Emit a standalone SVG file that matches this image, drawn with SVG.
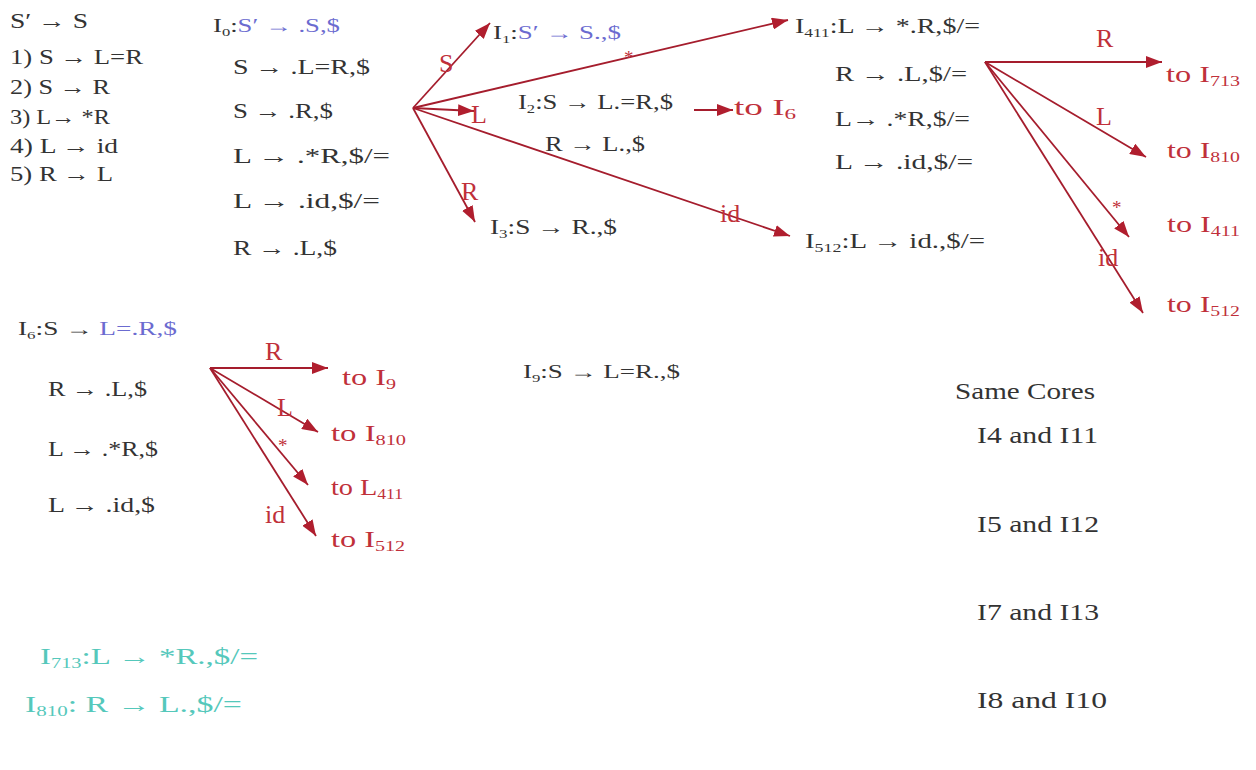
<svg xmlns="http://www.w3.org/2000/svg" width="1256" height="770" viewBox="0 0 1256 770">
<style>
text{font-family:"Liberation Serif","DejaVu Serif",serif;fill:#333;font-size:22px}
.sm{font-size:18px}
.md{font-size:20px}
.lg{font-size:23px}
.b{fill:#6b6bd0}
.r{fill:#c0303a}
.to{font-size:24px}
.lb{font-size:26px}
.st{font-size:19px}
.g{fill:#55c8bb;font-size:23px}
.s{font-size:0.62em}
#connectors line{stroke:#a51d2d;stroke-width:1.8;marker-end:url(#ah)}
</style>
<defs>
<marker id="ah" markerWidth="16" markerHeight="12" refX="16" refY="6" orient="auto" markerUnits="userSpaceOnUse"><path d="M0,0 L16,6 L0,12 z" fill="#b01e2e"/></marker>
</defs>
<rect width="1256" height="770" fill="#fff"/>

<g id="grammar">
<text x="10" y="28" textLength="78" lengthAdjust="spacingAndGlyphs">S′ → S</text>
<text x="10" y="64" textLength="133" lengthAdjust="spacingAndGlyphs">1) S → L=R</text>
<text x="10" y="94" textLength="100" lengthAdjust="spacingAndGlyphs">2) S → R</text>
<text x="10" y="124" textLength="100" lengthAdjust="spacingAndGlyphs">3) L→ *R</text>
<text x="10" y="153" textLength="108" lengthAdjust="spacingAndGlyphs">4) L → id</text>
<text x="10" y="181" textLength="103" lengthAdjust="spacingAndGlyphs">5) R → L</text>
</g>

<g id="I0">
<text class="sm" x="213" y="32" textLength="127" lengthAdjust="spacingAndGlyphs">I<tspan class="s" dy="4">0</tspan><tspan dy="-4">:</tspan><tspan class="b">S′ → .S,$</tspan></text>
<text x="233" y="74" textLength="137" lengthAdjust="spacingAndGlyphs">S → .L=R,$</text>
<text x="233" y="118" textLength="100" lengthAdjust="spacingAndGlyphs">S → .R,$</text>
<text x="233" y="163" textLength="157" lengthAdjust="spacingAndGlyphs">L → .*R,$/=</text>
<text x="233" y="208" textLength="147" lengthAdjust="spacingAndGlyphs">L → .id,$/=</text>
<text x="233" y="255" textLength="104" lengthAdjust="spacingAndGlyphs">R → .L,$</text>
</g>

<g id="I1">
<text class="sm" x="493" y="39" textLength="128" lengthAdjust="spacingAndGlyphs">I<tspan class="s" dy="4">1</tspan><tspan dy="-4">:</tspan><tspan class="b">S′ → S.,$</tspan></text>
</g>

<g id="I2">
<text class="md" x="518" y="109" textLength="155" lengthAdjust="spacingAndGlyphs">I<tspan class="s" dy="4">2</tspan><tspan dy="-4">:S → L.=R,$</tspan></text>
<text class="md" x="545" y="151" textLength="100" lengthAdjust="spacingAndGlyphs">R → L.,$</text>
<text class="r to" x="734" y="115" textLength="62" lengthAdjust="spacingAndGlyphs">to I<tspan class="s" dy="4">6</tspan></text>
</g>

<g id="I3">
<text class="md" x="490" y="234" textLength="127" lengthAdjust="spacingAndGlyphs">I<tspan class="s" dy="4">3</tspan><tspan dy="-4">:S → R.,$</tspan></text>
</g>

<g id="I411">
<text class="md" x="795" y="33" textLength="185" lengthAdjust="spacingAndGlyphs">I<tspan class="s" dy="4">411</tspan><tspan dy="-4">:L → *.R,$/=</tspan></text>
<text x="835" y="81" textLength="132" lengthAdjust="spacingAndGlyphs">R → .L,$/=</text>
<text x="835" y="126" textLength="135" lengthAdjust="spacingAndGlyphs">L→ .*R,$/=</text>
<text x="835" y="169" textLength="138" lengthAdjust="spacingAndGlyphs">L → .id,$/=</text>
</g>

<g id="I512">
<text class="md" x="805" y="248" textLength="180" lengthAdjust="spacingAndGlyphs">I<tspan class="s" dy="4">512</tspan><tspan dy="-4">:L → id.,$/=</tspan></text>
</g>

<g id="I411-targets">
<text class="r to" x="1166" y="82" textLength="74" lengthAdjust="spacingAndGlyphs">to I<tspan class="s" dy="4">713</tspan></text>
<text class="r to" x="1167" y="158" textLength="73" lengthAdjust="spacingAndGlyphs">to I<tspan class="s" dy="4">810</tspan></text>
<text class="r to" x="1167" y="232" textLength="73" lengthAdjust="spacingAndGlyphs">to I<tspan class="s" dy="4">411</tspan></text>
<text class="r to" x="1167" y="312" textLength="73" lengthAdjust="spacingAndGlyphs">to I<tspan class="s" dy="4">512</tspan></text>
</g>

<g id="I6">
<text class="sm" x="18" y="335" textLength="159" lengthAdjust="spacingAndGlyphs">I<tspan class="s" dy="4">6</tspan><tspan dy="-4">:S → </tspan><tspan class="b">L=.R,$</tspan></text>
<text x="48" y="396" textLength="99" lengthAdjust="spacingAndGlyphs">R → .L,$</text>
<text x="48" y="456" textLength="110" lengthAdjust="spacingAndGlyphs">L → .*R,$</text>
<text x="48" y="512" textLength="107" lengthAdjust="spacingAndGlyphs">L → .id,$</text>
</g>

<g id="I6-targets">
<text class="r to" x="342" y="385" textLength="54" lengthAdjust="spacingAndGlyphs">to I<tspan class="s" dy="4">9</tspan></text>
<text class="r to" x="331" y="441" textLength="75" lengthAdjust="spacingAndGlyphs">to I<tspan class="s" dy="4">810</tspan></text>
<text class="r to" x="331" y="495" textLength="72" lengthAdjust="spacingAndGlyphs">to L<tspan class="s" dy="4">411</tspan></text>
<text class="r to" x="331" y="547" textLength="74" lengthAdjust="spacingAndGlyphs">to I<tspan class="s" dy="4">512</tspan></text>
</g>

<g id="I9">
<text class="sm" x="523" y="378" textLength="157" lengthAdjust="spacingAndGlyphs">I<tspan class="s" dy="4">9</tspan><tspan dy="-4">:S → L=R.,$</tspan></text>
</g>

<g id="I713">
<text class="g" x="40" y="664" textLength="218" lengthAdjust="spacingAndGlyphs">I<tspan class="s" dy="4">713</tspan><tspan dy="-4">:L → *R.,$/=</tspan></text>
</g>
<g id="I810">
<text class="g" x="25" y="712" textLength="217" lengthAdjust="spacingAndGlyphs">I<tspan class="s" dy="4">810</tspan><tspan dy="-4">:  R → L.,$/=</tspan></text>
</g>

<g id="same-cores">
<text class="lg" x="955" y="399" textLength="140" lengthAdjust="spacingAndGlyphs">Same Cores</text>
<text class="lg" x="977" y="443" textLength="121" lengthAdjust="spacingAndGlyphs">I4  and I11</text>
<text class="lg" x="977" y="532" textLength="122" lengthAdjust="spacingAndGlyphs">I5  and I12</text>
<text class="lg" x="977" y="620" textLength="122" lengthAdjust="spacingAndGlyphs">I7  and I13</text>
<text class="lg" x="977" y="708" textLength="130" lengthAdjust="spacingAndGlyphs">I8  and  I10</text>
</g>

<g id="connectors">
<line x1="413" y1="108" x2="490" y2="23"/>
<line x1="413" y1="108" x2="788" y2="20"/>
<line x1="413" y1="108" x2="474" y2="111"/>
<line x1="413" y1="108" x2="475" y2="222"/>
<line x1="413" y1="108" x2="790" y2="236"/>
<line x1="694" y1="110" x2="733" y2="110"/>
<line x1="985" y1="62" x2="1162" y2="62"/>
<line x1="985" y1="62" x2="1146" y2="157"/>
<line x1="985" y1="62" x2="1129" y2="237"/>
<line x1="985" y1="62" x2="1143" y2="313"/>
<line x1="210" y1="368" x2="328" y2="368"/>
<line x1="210" y1="368" x2="318" y2="432"/>
<line x1="210" y1="368" x2="308" y2="485"/>
<line x1="210" y1="368" x2="316" y2="536"/>
<text class="r lb" x="439" y="72">S</text>
<text class="r st" x="624" y="64">*</text>
<text class="r lb" x="471" y="123">L</text>
<text class="r lb" x="461" y="200">R</text>
<text class="r lb" x="720" y="222">id</text>
<text class="r lb" x="1096" y="47">R</text>
<text class="r lb" x="1096" y="125">L</text>
<text class="r st" x="1112" y="214">*</text>
<text class="r lb" x="1098" y="266">id</text>
<text class="r lb" x="265" y="360">R</text>
<text class="r lb" x="277" y="416">L</text>
<text class="r st" x="278" y="452">*</text>
<text class="r lb" x="265" y="523">id</text>
</g>
</svg>
